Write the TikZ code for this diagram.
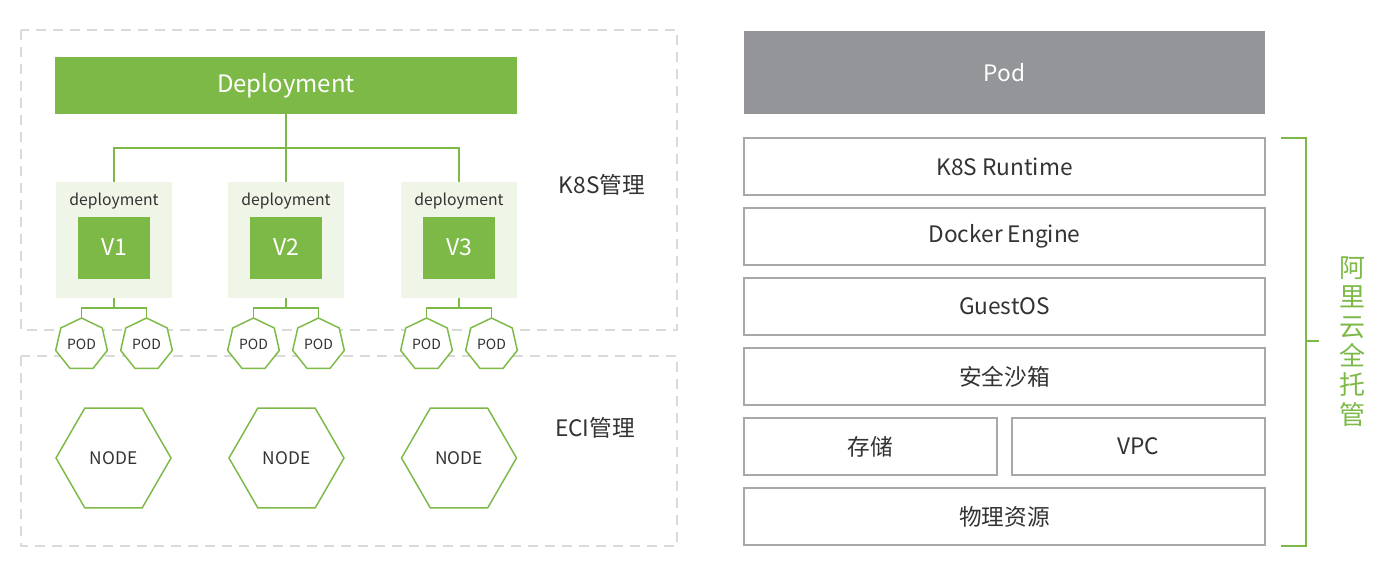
\documentclass[tikz,border=0pt]{standalone}
\usepackage{fontspec}
\setmainfont{Noto Sans CJK SC}
\usetikzlibrary{shapes.geometric}
\definecolor{lgreen}{RGB}{125,185,70}
\definecolor{pale}{RGB}{239,246,232}
\definecolor{podgray}{RGB}{147,149,152}
\definecolor{bordergray}{RGB}{168,168,168}
\definecolor{dashgray}{RGB}{218,218,218}
\definecolor{txt}{RGB}{51,51,51}
\begin{document}
\begin{tikzpicture}[x=0.75pt,y=-0.75pt,
  every node/.style={inner sep=0pt, outer sep=0pt, text=txt},
  gl/.style={draw=lgreen, line width=1.1pt},
  dashbox/.style={draw=dashgray, line width=1.1pt, dash pattern=on 7.5pt off 5.25pt},
  greenbar/.style={fill=lgreen, text=white, font=\fontsize{18}{20}\selectfont},
  lightbox/.style={fill=pale, minimum width=116*0.75pt, minimum height=116*0.75pt},
  vbox/.style={fill=lgreen, text=white, minimum width=72*0.75pt, minimum height=62*0.75pt, font=\fontsize{17.25}{19}\selectfont},
  smalltxt/.style={font=\fontsize{11.8}{13}\selectfont},
  podshape/.style={regular polygon, regular polygon sides=7, minimum size=53*0.75pt, draw=lgreen, line width=1.1pt, fill=white, font=\fontsize{10.5}{12}\selectfont},
  nodeshape/.style={regular polygon, regular polygon sides=6, minimum size=115*0.75pt, draw=lgreen, line width=1.1pt, fill=white, font=\fontsize{13}{15}\selectfont},
  label/.style={font=\fontsize{17}{19}\selectfont},
  layer/.style={draw=bordergray, line width=1.1pt, fill=white, minimum height=57*0.75pt, font=\fontsize{17}{19}\selectfont},
  wide/.style={layer, minimum width=521*0.75pt},
  half/.style={layer, minimum width=253*0.75pt}
]
\useasboundingbox (0,0) rectangle (1400,583);
\fill[white] (0,0) rectangle (1400,583);

% dashed regions
\draw[dashbox] (21,30) rectangle (677,330);
\draw[dashbox] (21,356) rectangle (677,546);

% top deployment
\node[greenbar, minimum width=462*0.75pt, minimum height=57*0.75pt] (dep) at (286,85.5) {Deployment};

% deployment boxes
\foreach \i/\x in {1/114,2/286,3/459}{
  \node[lightbox] (d\i) at (\x,240) {};
  \node[smalltxt] (t\i) at (\x,201) {deployment};
}
\node[vbox] (v1) at (114,247.5) {V1};
\node[vbox] (v2) at (286,247.5) {V2};
\node[vbox] (v3) at (459,247.5) {V3};

% tree connectors
\coordinate (j) at (286,148);
\draw[gl] (dep.south) -- (j);
\draw[gl] (d1.north) |- (j) -| (d3.north);
\draw[gl] (j) -- (d2.north);

% pods
\foreach \i/\x in {1/114,2/286,3/459}{
  \node[podshape] (p\i a) at (\x-32.5,344.5) {POD};
  \node[podshape] (p\i b) at (\x+32.5,344.5) {POD};
  \coordinate (b\i) at (\x,308);
  \draw[gl] (d\i.south) -- (b\i);
  \draw[gl] (p\i a.north) |- (b\i) -| (p\i b.north);
}

% nodes
\node[nodeshape] (n1) at (113.5,458) {NODE};
\node[nodeshape] (n2) at (286.5,458) {NODE};
\node[nodeshape] (n3) at (459,458) {NODE};

% region labels
\node[label] (k8s) at (602,185) {K8S管理};
\node[label] (eci) at (595,428) {ECI管理};

% right stack
\node[fill=podgray, text=white, minimum width=521*0.75pt, minimum height=83*0.75pt, font=\fontsize{17}{19}\selectfont] (pod) at (1004.5,72.5) {Pod};
\node[wide] (rt) at (1004.5,166.5) {K8S Runtime};
\node[wide] (de) at (1004.5,236.5) {Docker Engine};
\node[wide] (os) at (1004.5,306.5) {GuestOS};
\node[wide] (sb) at (1004.5,376.5) {安全沙箱};
\node[half] (st) at (870.5,446.5) {存储};
\node[half] (vpc) at (1138.5,446.5) {VPC};
\node[wide] (phy) at (1004.5,516.5) {物理资源};

% bracket
\coordinate (bt1) at (1281,138);
\coordinate (bt2) at (1306,138);
\coordinate (bb2) at (1306,546);
\coordinate (bb1) at (1281,546);
\coordinate (bm1) at (1306,341);
\coordinate (bm2) at (1319,341);
\draw[gl] (bt1) -- (bt2) -- (bb2) -- (bb1);
\draw[gl] (bm1) -- (bm2);
\node[text=lgreen, align=center, font=\fontsize{19.5}{22}\selectfont] (vt) at (1352,341.5) {阿\\里\\云\\全\\托\\管};
\end{tikzpicture}
\end{document}
